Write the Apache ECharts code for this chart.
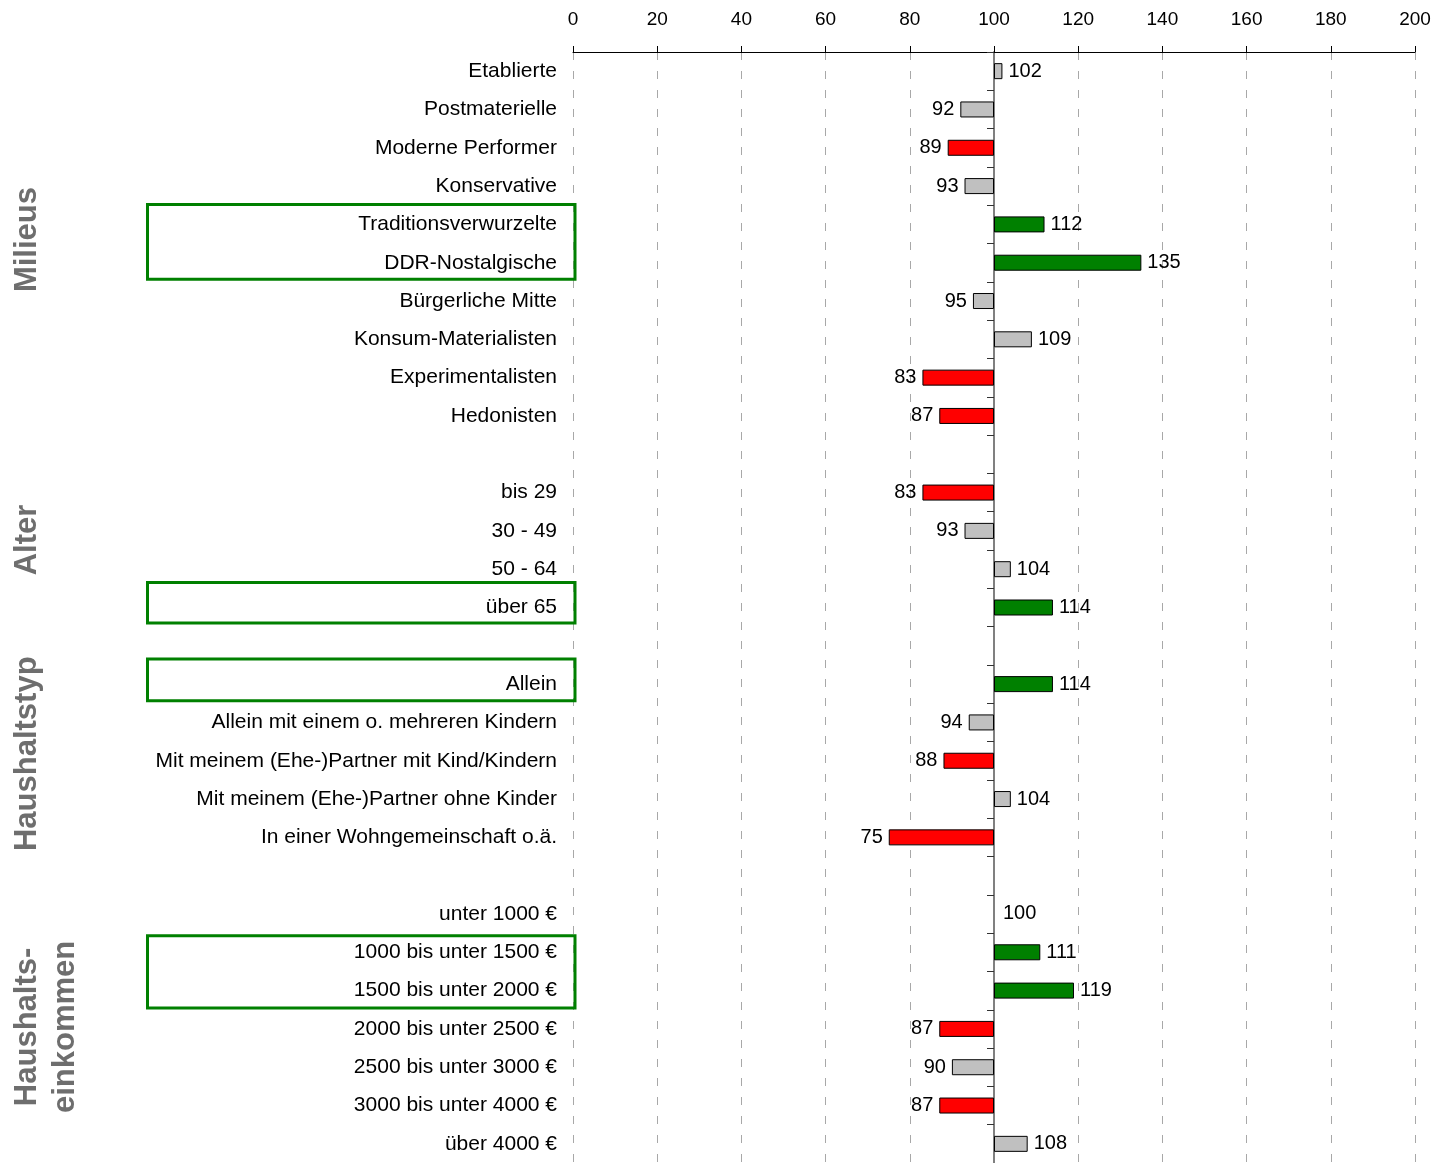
<!DOCTYPE html>
<html>
<head>
<meta charset="utf-8">
<script src="https://cdn.jsdelivr.net/npm/echarts@6/dist/echarts.min.js"></script>
<style>
  html, body { margin: 0; padding: 0; background: #fff; }
  #chart { width: 1436px; height: 1163px; }
</style>
</head>
<body>
<div id="chart"></div>
<script>
// Index values (100 = average); blank rows separate the groups
const categories = [
  'Etablierte', 'Postmaterielle', 'Moderne Performer', 'Konservative',
  'Traditionsverwurzelte', 'DDR-Nostalgische', 'Bürgerliche Mitte',
  'Konsum-Materialisten', 'Experimentalisten', 'Hedonisten',
  ' ',
  'bis 29', '30 - 49', '50 - 64', 'über 65',
  '  ',
  'Allein', 'Allein mit einem o. mehreren Kindern',
  'Mit meinem (Ehe-)Partner mit Kind/Kindern',
  'Mit meinem (Ehe-)Partner ohne Kinder',
  'In einer Wohngemeinschaft o.ä.',
  '   ',
  'unter 1000 €', '1000 bis unter 1500 €', '1500 bis unter 2000 €',
  '2000 bis unter 2500 €', '2500 bis unter 3000 €', '3000 bis unter 4000 €',
  'über 4000 €'
];
const indexValues = [
  102, 92, 89, 93, 112, 135, 95, 109, 83, 87,
  null,
  83, 93, 104, 114,
  null,
  114, 94, 88, 104, 75,
  null,
  100, 111, 119, 87, 90, 87, 108
];
const xTicks = { min: 0, max: 200, interval: 20 };
const baseValue = 100;
const lowLimit = 90;   // below: red
const highLimit = 110; // above: green

const groups = [
  { title: 'Milieus', from: 0, to: 9 },
  { title: 'Alter', from: 11, to: 14 },
  { title: 'Haushaltstyp', from: 16, to: 20 },
  { title: 'Haushalts-\neinkommen', from: 22, to: 28 }
];
const highlighted = [[4, 5], [14, 14], [16, 16], [23, 24]];

// layout tweaks: vertical nudge of each group title, and the frame padding
// (above first row centre, below last row centre) of each highlight box, in px
const titleShift = [-4, -10, -7, -2];
const framePad = [[20, 16.5], [25, 15.5], [25, 16.7], [16.5, 17.3]];

const FONT = "'Liberation Sans', Arial, sans-serif";
const RED = '#ff0000', GREEN = '#008000', GREY = '#c0c0c0';

function colorFor(v) {
  if (v < lowLimit) return RED;
  if (v > highLimit) return GREEN;
  return GREY;
}

// invisible offset so each bar starts at the base value
const baseData = indexValues.map(v => v == null ? null : Math.min(v, baseValue));
const deltaData = indexValues.map(v => {
  if (v == null) return null;
  const item = {
    value: Math.abs(v - baseValue),
    orig: v,
    itemStyle: { color: colorFor(v) },
    label: { position: v < baseValue ? 'left' : 'right' }
  };
  if (v === baseValue) {
    item.itemStyle = { color: 'transparent', borderWidth: 0 };
    item.label.distance = 9;
  }
  return item;
});

const chart = echarts.init(document.getElementById('chart'), null, { renderer: 'canvas' });

const gridBox = { left: 573, top: 52, width: 842, height: 1113 };

const option = {
  animation: false,
  backgroundColor: '#ffffff',
  textStyle: { fontFamily: FONT },
  grid: { left: gridBox.left, top: gridBox.top, width: gridBox.width, height: gridBox.height, containLabel: false },
  xAxis: {
    type: 'value',
    position: 'top',
    min: xTicks.min, max: xTicks.max, interval: xTicks.interval,
    axisLine: { show: true, lineStyle: { color: '#000', width: 1 } },
    axisTick: { show: true, length: 6, lineStyle: { color: '#000' } },
    axisLabel: { fontSize: 19, color: '#000', margin: 23, fontFamily: FONT },
    splitLine: { show: true, lineStyle: { color: '#a8a8a8', type: [8, 11], width: 1 } }
  },
  yAxis: [
    {
      type: 'category',
      data: categories,
      inverse: true,
      position: 'left',
      axisLine: { show: false },
      axisTick: { show: false },
      axisLabel: { fontSize: 21, color: '#000', margin: 16, fontFamily: FONT, interval: 0 },
      splitLine: { show: false }
    },
    {
      type: 'category',
      data: categories,
      inverse: true,
      position: 'left',
      offset: 0,
      axisLine: { show: true, lineStyle: { color: '#808080', width: 2 } },
      axisTick: { show: true, length: 7, interval: 0, lineStyle: { color: '#333', width: 1 } },
      axisLabel: { show: false },
      splitLine: { show: false }
    }
  ],
  series: [
    {
      type: 'bar',
      stack: 'idx',
      data: baseData,
      barWidth: 16,
      silent: true,
      itemStyle: { color: 'transparent', borderWidth: 0 }
    },
    {
      type: 'bar',
      stack: 'idx',
      data: deltaData,
      barWidth: 16,
      itemStyle: { borderColor: '#000', borderWidth: 1 },
      label: {
        show: true,
        fontSize: 20,
        color: '#000',
        fontFamily: FONT,
        distance: 6,
        formatter: p => p.data.orig
      }
    }
  ]
};

chart.setOption(option);

// place the base-line axis at x = baseValue, then add frames and group titles
const xBase = chart.convertToPixel({ xAxisIndex: 0 }, baseValue);
const rowPx = i => chart.convertToPixel({ yAxisIndex: 0 }, i);

const graphics = [];
highlighted.forEach(([a, b], k) => {
  const top = rowPx(a) - framePad[k][0];
  const bottom = rowPx(b) + framePad[k][1];
  graphics.push({
    type: 'rect',
    shape: { x: 147.5, y: top, width: gridBox.left + 2 - 147.5, height: bottom - top },
    style: { fill: null, stroke: GREEN, lineWidth: 3 },
    z: 10
  });
});
groups.forEach((g, k) => {
  const cy = (rowPx(g.from) + rowPx(g.to)) / 2 + titleShift[k];
  const twoLines = g.title.indexOf('\n') >= 0;
  graphics.push({
    type: 'text',
    x: twoLines ? 46 : 27,
    y: cy,
    rotation: Math.PI / 2,
    style: {
      text: g.title,
      font: 'bold 31px ' + FONT,
      fill: '#6e6e6e',
      align: 'center',
      verticalAlign: 'middle',
      lineHeight: 38
    }
  });
});

chart.setOption({
  yAxis: [{}, { offset: -(xBase - gridBox.left) }],
  graphic: graphics
});
</script>
</body>
</html>
